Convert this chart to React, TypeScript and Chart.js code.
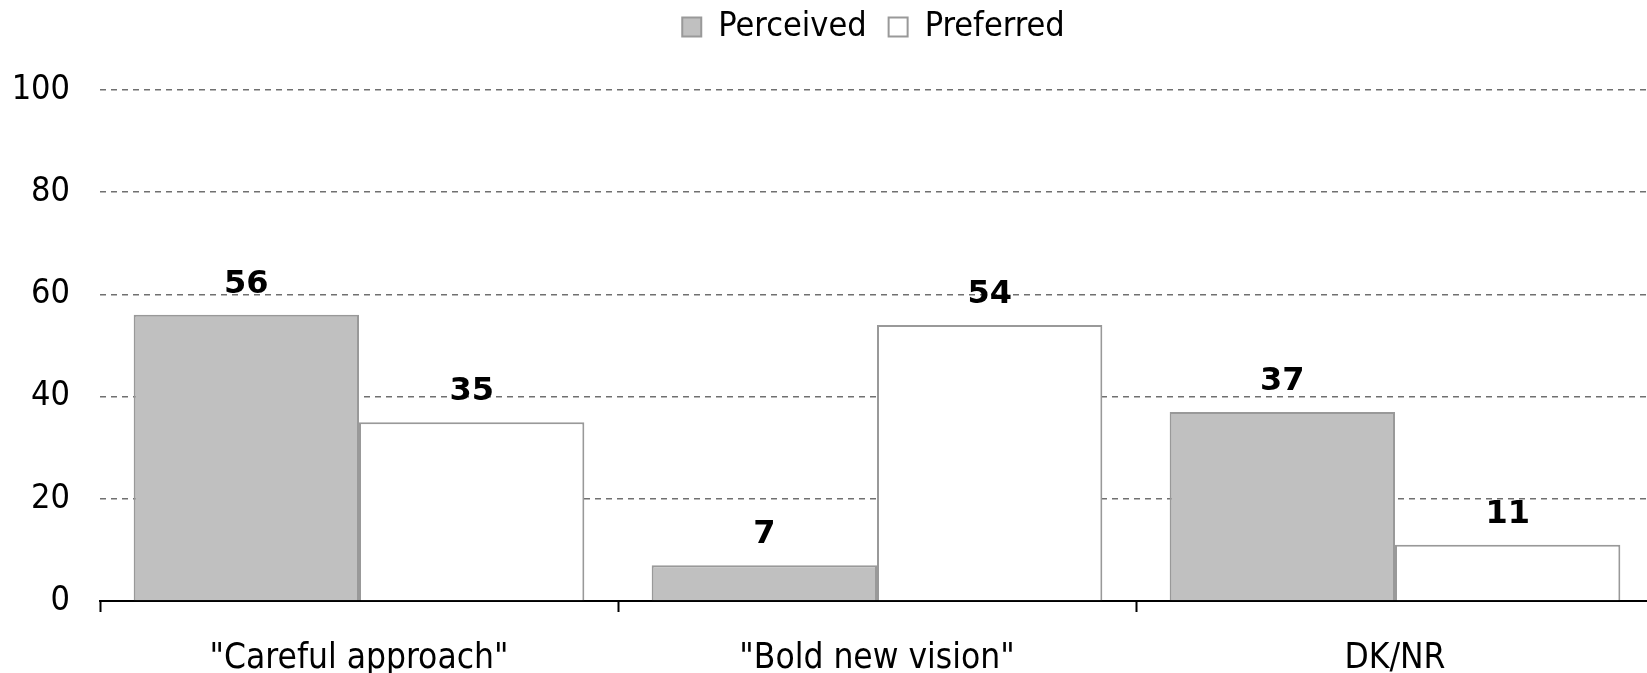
import React, { useEffect, useRef } from "react";
import { Chart, registerables } from "chart.js";

Chart.register(...registerables);

const categories = ['"Careful approach"', '"Bold new vision"', "DK/NR"];
const perceived = [56, 7, 37];
const preferred = [35, 54, 11];
const seriesNames = ["Perceived", "Preferred"];
const yTicks = [0, 20, 40, 60, 80, 100];

const FONT = "'DejaVu Sans Condensed', 'DejaVu Sans', sans-serif";

const valueLabels = {
  id: "valueLabels",
  afterDatasetsDraw(chart: any) {
    const ctx = chart.ctx;
    ctx.save();
    ctx.font = `bold 32px 'DejaVu Sans', sans-serif`;
    ctx.fillStyle = "#000";
    ctx.textAlign = "center";
    ctx.textBaseline = "alphabetic";
    chart.data.datasets.forEach((ds: any, i: number) => {
      const meta = chart.getDatasetMeta(i);
      meta.data.forEach((bar: any, j: number) => {
        ctx.fillText(String(ds.data[j]), bar.x, bar.y - 22);
      });
    });
    ctx.restore();
  },
};

const layoutTweak = {
  id: "layoutTweak",
  afterLayout(chart: any) {
    const lg = chart.legend;
    if (lg) {
      const dy = -36;
      lg.top += dy;
      lg.bottom += dy;
      lg.left = chart.chartArea.left;
      lg.right = chart.chartArea.right;
      lg.width = lg.right - lg.left;
    }
    const ext = 7;
    const xs = chart.scales.x;
    xs.right += ext;
    xs.width += ext;
    xs.configure();
    chart.chartArea.right += ext;
    chart.chartArea.width += ext;
    const ys = chart.scales.y;
    ys.right = ys.right;
  },
};

export default function App() {
  const ref = useRef<HTMLCanvasElement>(null);
  useEffect(() => {
    const chart = new Chart(ref.current!, {
      type: "bar",
      data: {
        labels: categories,
        datasets: [
          {
            label: seriesNames[0],
            data: perceived,
            backgroundColor: "#c0c0c0",
            borderColor: "#999999",
            borderWidth: 2,
          },
          {
            label: seriesNames[1],
            data: preferred,
            backgroundColor: "#ffffff",
            borderColor: "#999999",
            borderWidth: 2,
          },
        ],
      },
      options: {
        animation: false,
        responsive: false,
        maintainAspectRatio: false,
        layout: { padding: { top: 24, right: 0, left: 0, bottom: 0 } },
        datasets: { bar: { categoryPercentage: 0.87, barPercentage: 1 } },
        plugins: {
          tooltip: { enabled: false },
          legend: {
            position: "top",
            labels: {
              color: "#000",
              font: { family: FONT, size: 34 },
              boxWidth: 19,
              boxHeight: 19,
              padding: 22,
            },
          },
        },
        scales: {
          x: {
            offset: true,
            grid: {
              offset: true,
              drawOnChartArea: false,
              drawTicks: true,
              tickLength: 11,
              tickColor: "#000",
              tickWidth: 2,
            },
            border: { display: true, color: "#000", width: 2 },
            ticks: {
              color: "#000",
              font: { family: FONT, size: 35 },
              padding: 26,
            },
            afterFit(scale: any) {
              scale.height = 72;
            },
          },
          y: {
            min: 0,
            max: 100,
            afterBuildTicks(scale: any) {
              scale.ticks = yTicks.map((v) => ({ value: v }));
            },
            grid: {
              drawTicks: false,
              color: (c: any) => (c.tick && c.tick.value === 0 ? "rgba(0,0,0,0)" : "#707070"),
              lineWidth: 1.5,
            },
            border: { display: false, dash: [6, 5] },
            ticks: {
              color: "#000",
              font: { family: FONT, size: 34 },
              padding: 30,
            },
            afterFit(scale: any) {
              scale.width = 100;
            },
          },
        },
      },
      plugins: [valueLabels, layoutTweak],
    });
    return () => chart.destroy();
  }, []);
  return (
    <div style={{ position: "fixed", left: 0, top: 0, width: 1647, height: 673, background: "#fff" }}>
      <canvas ref={ref} width={1647} height={673} style={{ width: 1647, height: 673 }} />
    </div>
  );
}
